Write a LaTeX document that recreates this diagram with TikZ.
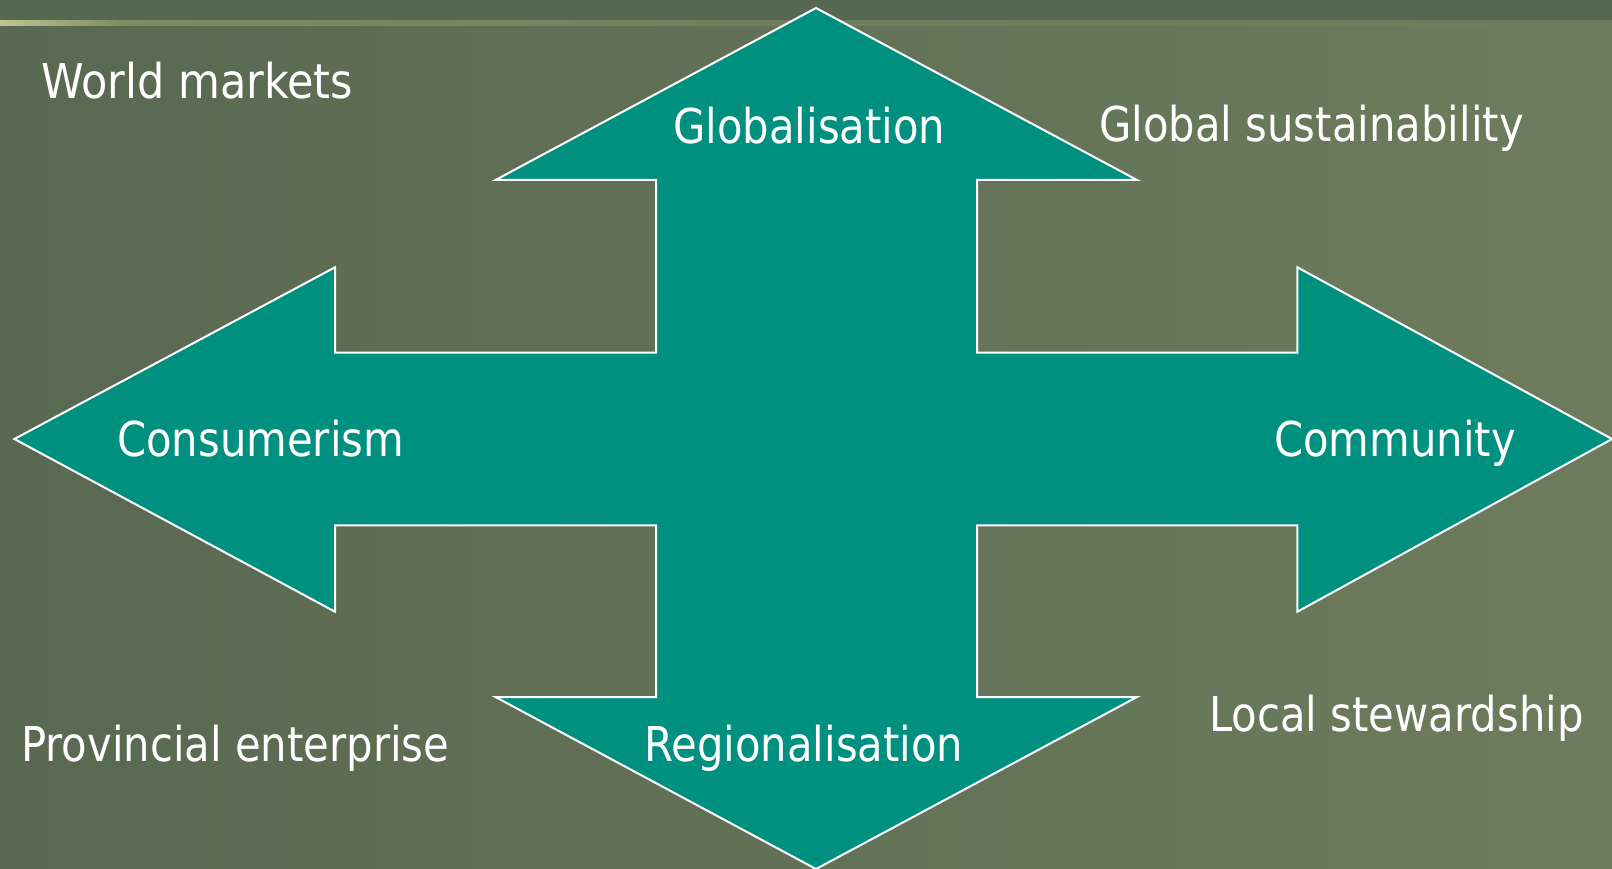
\documentclass[tikz,border=0pt]{standalone}
\usepackage{graphicx}
\usepackage{fontspec}
\setmainfont[FakeStretch=0.87]{DejaVu Sans}
\definecolor{bgL}{HTML}{596851}
\definecolor{bgR}{HTML}{6C7C5C}
\definecolor{topstrip}{HTML}{566851}
\definecolor{lineL}{HTML}{BEC791}
\definecolor{lineA}{HTML}{7E8C65}
\definecolor{lineM}{HTML}{6E7E5E}
\definecolor{teal}{HTML}{00907F}
\pgfdeclarehorizontalshading{toplineshade}{100bp}{color(0bp)=(lineL); color(25bp)=(lineL); color(28.7bp)=(lineA); color(50bp)=(lineM); color(75bp)=(bgR); color(100bp)=(bgR)}
\tikzset{
  lbl/.style={anchor=base west, inner sep=0pt, text=white, font=\fontsize{48}{56}\selectfont},
  arrowshape/.style={fill=teal, draw=white, line width=2pt, line join=miter}
}
\begin{document}
\begin{tikzpicture}[x=1pt,y=-1pt]
\useasboundingbox (0,0) rectangle (1612,869);
\clip (0,0) rectangle (1612,869);
% background
\shade[left color=bgL, right color=bgR] (0,0) rectangle (1612,869);
\fill[topstrip] (0,0) rectangle (1612,21);
\shade[shading=toplineshade] (0,21) rectangle (1612,26);
% four-way arrow
\draw[arrowshape] (816,8) -- (1137,180) -- (977,180) -- (977,352.6) -- (1297.4,352.6)
  -- (1297.4,267.3) -- (1612,439) -- (1297.4,611.7) -- (1297.4,525.3) -- (977,525.3)
  -- (977,697) -- (1137,697) -- (816,869) -- (495.5,697) -- (656,697) -- (656,525.3)
  -- (335,525.3) -- (335,611.7) -- (14.4,439) -- (335,267.3) -- (335,352.6)
  -- (656,352.6) -- (656,180) -- (495.5,180) -- cycle;
% labels
\node[lbl] (world) at (41,99) {\scalebox{1.03}[1]{World markets}};
\node[lbl] (glob) at (673,143.3) {Globalisation};
\node[lbl] (gsus) at (1099,141.7) {Global sustainability};
\node[lbl] (cons) at (117,456.7) {Consumerism};
\node[lbl] (comm) at (1274,456.7) {Community};
\node[lbl] (prov) at (21,761.7) {Provincial enterprise};
\node[lbl] (regi) at (644,761.7) {Regionalisation};
\node[lbl] (loc) at (1209,731.7) {Local stewardship};
\end{tikzpicture}
\end{document}
